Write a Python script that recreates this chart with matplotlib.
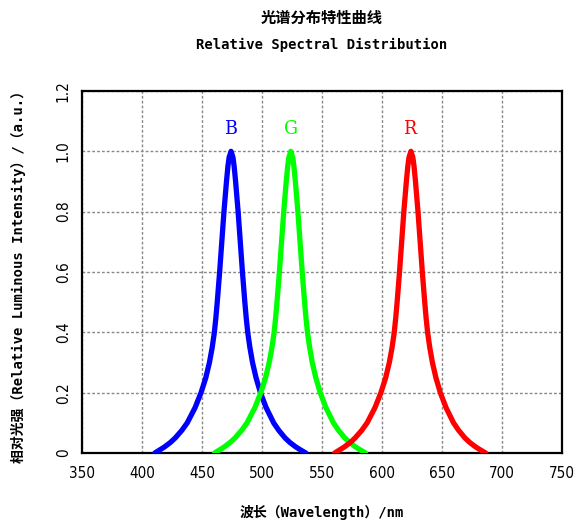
import matplotlib
matplotlib.use("Agg")
import matplotlib.pyplot as plt

# Values (wavelength in nm, relative intensity)
levels = [0, 0.01, 0.02, 0.035, 0.05, 0.075, 0.1, 0.15, 0.2, 0.25, 0.3, 0.35, 0.4, 0.45, 0.5,
          0.6, 0.7, 0.8, 0.9, 0.95, 0.98, 1.0,
          0.98, 0.95, 0.9, 0.8, 0.7, 0.6,
          0.5, 0.45, 0.4, 0.35, 0.3, 0.25, 0.2, 0.15, 0.1, 0.075, 0.05, 0.035, 0.02, 0.01, 0]

blue_wl = [410.7, 414.7, 418.7, 423.7, 427.7, 433.2, 437.7, 444.2, 449.2, 453.2, 456.2, 458.5, 460.3, 461.6, 462.7,
           464.7, 466.5, 468.3, 470.4, 471.6, 472.6, 474.2,
           475.8, 476.8, 478.0, 480.1, 481.9, 483.7,
           485.7, 486.8, 488.1, 489.9, 492.1, 495.0, 498.7, 503.5, 509.7, 514.0, 519.2, 523.2, 528.2, 532.2, 536.5]

green_wl = [460.5, 464.5, 468.5, 473.5, 477.5, 483.0, 487.5, 494.0, 499.0, 503.0, 506.0, 508.3, 510.1, 511.4, 512.5,
            514.5, 516.3, 518.1, 520.2, 521.4, 522.4, 524.0,
            525.6, 526.6, 527.8, 529.9, 531.7, 533.5,
            535.5, 536.6, 537.9, 539.7, 541.9, 544.8, 548.5, 553.3, 559.5, 563.8, 569.0, 573.0, 578.0, 582.0, 586.3]

red_wl = [560.6, 564.6, 568.6, 573.6, 577.6, 583.1, 587.6, 594.1, 599.1, 603.1, 606.1, 608.4, 610.2, 611.5, 612.6,
          614.6, 616.4, 618.2, 620.3, 621.5, 622.5, 624.1,
          625.7, 626.7, 627.9, 630.0, 631.8, 633.6,
          635.6, 636.7, 638.0, 639.8, 642.0, 644.9, 648.6, 653.4, 659.6, 663.9, 669.1, 673.1, 678.1, 682.1, 686.4]

curve_names = ["B", "G", "R"]
curve_colors = ["#0000ff", "#00ff00", "#ff0000"]
curve_peaks = [474.2, 524.0, 624.1]

x_ticks = [350, 400, 450, 500, 550, 600, 650, 700, 750]
y_ticks = [0, 0.2, 0.4, 0.6, 0.8, 1.0, 1.2]
y_tick_labels = ["0", "0.2", "0.4", "0.6", "0.8", "1.0", "1.2"]

mono = ["DejaVu Sans Mono", "Noto Sans CJK SC"]

fig = plt.figure(figsize=(5.79, 5.26), dpi=100)
ax = fig.add_axes([82 / 579, 73 / 526, 480 / 579, 362 / 526])

for wl, c in zip([blue_wl, green_wl, red_wl], curve_colors):
    ax.plot(wl, levels, color=c, lw=3.8, solid_capstyle="round", solid_joinstyle="round", zorder=3)

for name, c, pk in zip(curve_names, curve_colors, curve_peaks):
    ax.text(pk, 1.075, name, color=c, fontsize=14, family="DejaVu Serif", fontstretch="condensed",
            ha="center", va="center")

ax.set_xlim(350, 750)
ax.set_ylim(0, 1.2)
ax.set_xticks(x_ticks)
ax.set_yticks(y_ticks)
ax.set_xticklabels([str(v) for v in x_ticks], family="DejaVu Sans", fontstretch="condensed", fontsize=11)
ax.set_yticklabels(y_tick_labels, family="DejaVu Sans", fontstretch="condensed", fontsize=11,
                   rotation=90, va="center")
ax.tick_params(length=0)
ax.tick_params(axis="x", pad=9)
ax.tick_params(axis="y", pad=8)
ax.grid(True, color="#888888", lw=1, ls=(0, (2, 1.5)))
ax.set_axisbelow(True)
for sp in ax.spines.values():
    sp.set_linewidth(1.6)
    sp.set_color("black")

ax.set_xlabel("波长（Wavelength）/nm", family=mono, fontsize=10, fontweight="bold", va="center")
ax.xaxis.set_label_coords(0.5, -0.163)
ax.set_ylabel("相对光强（Relative Luminous Intensity）/（a.u.）", family=mono, fontsize=10,
              fontweight="bold", va="center")
ax.yaxis.set_label_coords(-0.133, 0.497)

fig.text(322 / 579, 1 - 18 / 526, "光谱分布特性曲线", family=["Noto Sans CJK SC"], fontsize=11,
         fontweight="bold", ha="center", va="center")
fig.text(322 / 579, 1 - 45 / 526, "Relative Spectral Distribution", family=mono, fontsize=10,
         fontweight="bold", ha="center", va="center")

fig.savefig("out.png", dpi=100)
